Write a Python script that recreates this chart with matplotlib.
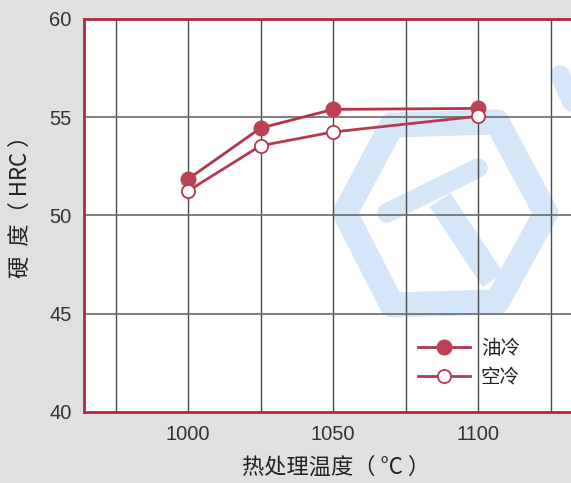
import numpy as np
import matplotlib
matplotlib.use("Agg")
import matplotlib.pyplot as plt
from matplotlib.patches import Polygon
from matplotlib.lines import Line2D

plt.rcParams['font.family'] = ['Liberation Sans', 'Noto Sans CJK SC', 'DejaVu Sans']

# data
temps = [1000, 1025, 1050, 1100]
oil_hrc = [51.85, 54.45, 55.4, 55.45]
air_hrc = [51.25, 53.55, 54.25, 55.05]
series_names = ["油冷", "空冷"]
x_ticks = [1000, 1050, 1100]
y_ticks = [40, 45, 50, 55, 60]

W, H = 571, 483
fig = plt.figure(figsize=(W / 100, H / 100), dpi=100)
fig.patch.set_facecolor("#e0e0e0")

# axes runs off the right edge of the figure like the reference
ax = fig.add_axes([84 / W, 1 - 412 / H, (577 - 84) / W, (412 - 19) / H])
ax.set_facecolor("white")
ax.set_xlim(1000 - 104 / 145 * 50, 1000 + 389 / 145 * 50)
ax.set_ylim(40, 60)


def px(x, y):
    return (x / W, 1 - y / H)


def wm_line(p0, p1, lw, cap="round"):
    a, b = px(*p0), px(*p1)
    ax.add_line(Line2D([a[0], b[0]], [a[1], b[1]], color=wm, lw=lw, solid_capstyle=cap,
                       transform=fig.transFigure, zorder=0.5))


# watermark (light blue hexagon with a T)
wm = "#d5e6f8"
hexagon = [px(345, 213), px(392, 125), px(497, 122), px(546, 213), px(497, 302), px(392, 305)]
ax.add_patch(Polygon(hexagon, closed=True, fill=False, edgecolor=wm, lw=18,
                     transform=fig.transFigure, zorder=0.5, joinstyle="round"))
wm_line((387, 213), (478, 168), 14)
wm_line((440, 200), (493, 280), 18, "butt")
wm_line((560, 75), (580, 120), 14)

# grid
for xv in np.arange(975, 1150, 25):
    ax.axvline(xv, color="#4a4a4a", lw=1.0, zorder=1)
for yv in [45, 50, 55]:
    ax.axhline(yv, color="#6a6a6a", lw=1.2, zorder=1)

ax.plot(temps, oil_hrc, color="#b2334a", lw=2.0, marker="o", ms=10.5,
        mfc="#bb4253", mec="#bb4253", zorder=3, label=series_names[0])
ax.plot(temps, air_hrc, color="#b53a50", lw=2.0, marker="o", ms=9.5,
        mfc="white", mec="#b8384c", mew=1.3, zorder=3, label=series_names[1])

for side in ["left", "top", "bottom"]:
    ax.spines[side].set_color("#b0283f")
    ax.spines[side].set_linewidth(2.0)
    ax.spines[side].set_zorder(4)
ax.spines["right"].set_visible(False)

ax.set_xticks(x_ticks)
ax.set_yticks(y_ticks)
ax.tick_params(length=0, labelsize=14.5, labelcolor="#333333")
ax.tick_params(axis="y", pad=9)
ax.tick_params(axis="x", pad=9)

cjk = ['Noto Sans CJK SC', 'DejaVu Sans']
fig.text(20 / W, 1 - 201 / H, "硬  度（ HRC ）", rotation=90, ha="center", va="center",
         fontsize=16, color="#222222", family=cjk)
fig.text(336 / W, 1 - 467 / H, "热处理温度（ °C ）", ha="center", va="center",
         fontsize=16, color="#222222", family=cjk)

leg = ax.legend(loc="upper left", bbox_to_anchor=px(400, 320), bbox_transform=fig.transFigure,
                frameon=False, handlelength=2.7, handletextpad=0.55, labelspacing=0.45,
                prop={"family": cjk, "size": 14})
for t in leg.get_texts():
    t.set_color("#222222")

fig.savefig("out.png", dpi=100, facecolor=fig.get_facecolor())
